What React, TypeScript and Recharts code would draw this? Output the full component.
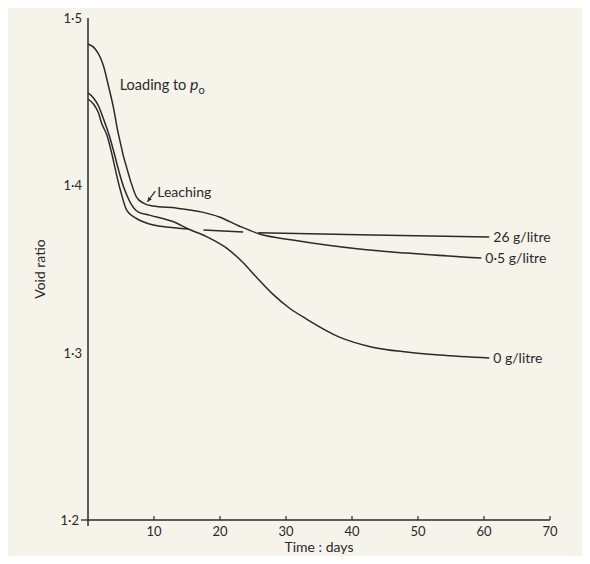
import { LineChart, Line, XAxis, YAxis, ReferenceDot, ReferenceLine, Label, LabelList } from 'recharts';

const INK = '#2a2a2a';
const PAPER = '#f6f3ea';
const FONT = 'Lato, "Open Sans", sans-serif';

// Void ratio against time for three pore-water salt concentrations
const days05 = [0, 1.1, 1.9, 2.35, 3.1, 3.9, 4.5, 6.4, 7.35, 8.4, 9.8, 13.4, 17.3, 19.9, 22.9, 26.0, 31.0, 36.1, 41.1, 48.3, 59.6];
const ratio05 = [1.4845, 1.4815, 1.4761, 1.4713, 1.4594, 1.4456, 1.4325, 1.4032, 1.393, 1.3894, 1.3876, 1.3864, 1.384, 1.3811, 1.3757, 1.3709, 1.3673, 1.3643, 1.3619, 1.3595, 1.3565];

const days0 = [0, 0.83, 1.6, 2.35, 3.1, 5.4, 6.45, 7.65, 9.3, 13.4, 14.9, 18.4, 21.0, 23.4, 25.5, 28.0, 30.5, 33.1, 38.1, 43.1, 48.3, 53.3, 60.8];
const ratio0 = [1.4552, 1.4522, 1.4474, 1.4396, 1.4313, 1.399, 1.3894, 1.384, 1.3822, 1.3775, 1.3745, 1.3685, 1.3625, 1.3542, 1.3452, 1.335, 1.3267, 1.3201, 1.3093, 1.3033, 1.3004, 1.2986, 1.2968];

// nulls leave the small breaks where the other curves cross
const days26 = [0, 0.83, 1.6, 2.05, 2.8, 4.9, 5.85, 7.2, 9.3, 13.4, 15.2, 16.3, 17.5, 23.5, 24.6, 25.8, 43.1, 60.8];
const ratio26 = [1.4516, 1.4486, 1.4432, 1.4372, 1.4307, 1.3972, 1.3852, 1.3805, 1.3769, 1.3745, 1.3739, null, 1.3733, 1.3721, null, 1.3716, 1.3703, 1.3691];

const xTicks = [10, 20, 30, 40, 50, 60, 70];
const yTicks = [1.2, 1.3, 1.4, 1.5];

const toPoints = (days: number[], ratios: (number | null)[]) =>
  days.map((day, i) => ({ day, ratio: ratios[i] }));

const fmt = (v: number) => v.toFixed(1).replace('.', '·');

const textStyle = { fontFamily: FONT, fill: INK };

function YTick(props: any) {
  const { x, y, payload } = props;
  const base = payload.value === 1.2;
  return (
    <g>
      {base && (
        <>
          <line x1={x - 1} x2={x + 6} y1={y} y2={y} stroke={INK} strokeWidth={1.3} />
          <line x1={x + 6} x2={x + 6} y1={y} y2={y + 6} stroke={INK} strokeWidth={1.5} />
        </>
      )}
      <text x={base ? x - 3 : x} y={y} dy={5} textAnchor="end" fontSize={13} style={textStyle}>
        {fmt(payload.value)}
      </text>
    </g>
  );
}

function XTick(props: any) {
  const { x, y, payload } = props;
  return (
    <g>
      <line x1={x} x2={x} y1={y - 4} y2={y - 8} stroke={INK} strokeWidth={1.2} />
      <text x={x} y={y + 12} textAnchor="middle" fontSize={13} style={textStyle}>
        {payload.value}
      </text>
    </g>
  );
}

// writes the concentration beside the last point of a curve
const endLabel = (text: string, count: number) => (props: any) => {
  const { x, y, index } = props;
  if (index !== count - 1) return null;
  return (
    <text x={x + 4} y={y} dy={5} fontSize={14} style={textStyle}>
      {text}
    </text>
  );
};

function Arrow(props: any) {
  const { x1, y1, x2, y2 } = props;
  const a = Math.atan2(y2 - y1, x2 - x1);
  const len = 5;
  const p1 = [x2 - len * Math.cos(a - 0.45), y2 - len * Math.sin(a - 0.45)];
  const p2 = [x2 - len * Math.cos(a + 0.45), y2 - len * Math.sin(a + 0.45)];
  return (
    <g>
      <line x1={x1} y1={y1} x2={x2} y2={y2} stroke={INK} strokeWidth={1.2} />
      <polygon points={`${x2},${y2} ${p1[0]},${p1[1]} ${p2[0]},${p2[1]}`} fill={INK} />
    </g>
  );
}

export default function App() {
  const lineProps = {
    type: 'monotone' as const,
    dataKey: 'ratio',
    stroke: INK,
    strokeWidth: 1.5,
    dot: false,
    isAnimationActive: false,
    connectNulls: false,
  };

  return (
    <div style={{ margin: -8, width: 590, height: 564, background: PAPER }}>
      <LineChart width={590} height={564} margin={{ top: 18, right: 40, bottom: 4, left: 28 }}>
        <XAxis
          type="number"
          dataKey="day"
          domain={[0, 70]}
          ticks={xTicks}
          tick={<XTick />}
          tickSize={0}
          tickMargin={4}
          height={40}
          axisLine={{ stroke: INK, strokeWidth: 1.5 }}
          tickLine={false}
          allowDuplicatedCategory={false}
        >
          <Label value="Time : days" position="insideBottom" offset={8} fontSize={14} style={textStyle} />
        </XAxis>
        <YAxis
          type="number"
          domain={[1.2, 1.5]}
          ticks={yTicks}
          tick={<YTick />}
          tickSize={0}
          tickMargin={6}
          width={60}
          axisLine={{ stroke: INK, strokeWidth: 1.5 }}
          tickLine={false}
        >
          <Label
            value="Void ratio"
            angle={-90}
            position="insideLeft"
            offset={12}
            fontSize={14}
            style={{ ...textStyle, textAnchor: 'middle' }}
          />
        </YAxis>

        <Line {...lineProps} data={toPoints(days05, ratio05)} name="0·5 g/litre">
          <LabelList dataKey="ratio" content={endLabel('0·5 g/litre', days05.length)} />
        </Line>
        <Line {...lineProps} data={toPoints(days0, ratio0)} name="0 g/litre">
          <LabelList dataKey="ratio" content={endLabel('0 g/litre', days0.length)} />
        </Line>
        <Line {...lineProps} data={toPoints(days26, ratio26)} name="26 g/litre">
          <LabelList dataKey="ratio" content={endLabel('26 g/litre', days26.length)} />
        </Line>

        <ReferenceLine
          segment={[{ x: 10.2, y: 1.3966 }, { x: 9.0, y: 1.3902 }]}
          shape={(p: any) => <Arrow {...p} />}
        />
        <ReferenceDot
          x={10.5}
          y={1.396}
          r={0}
          shape={(p: any) => (
            <text x={p.cx} y={p.cy} dy={5} fontSize={14} style={textStyle}>
              Leaching
            </text>
          )}
        />
        <ReferenceDot
          x={4.8}
          y={1.46}
          r={0}
          shape={(p: any) => (
            <text x={p.cx} y={p.cy} dy={5} fontSize={14.5} style={textStyle}>
              Loading to <tspan fontStyle="italic" fontSize={16}>p</tspan>
              <tspan dy={4} fontSize={11}>o</tspan>
            </text>
          )}
        />
      </LineChart>
    </div>
  );
}
